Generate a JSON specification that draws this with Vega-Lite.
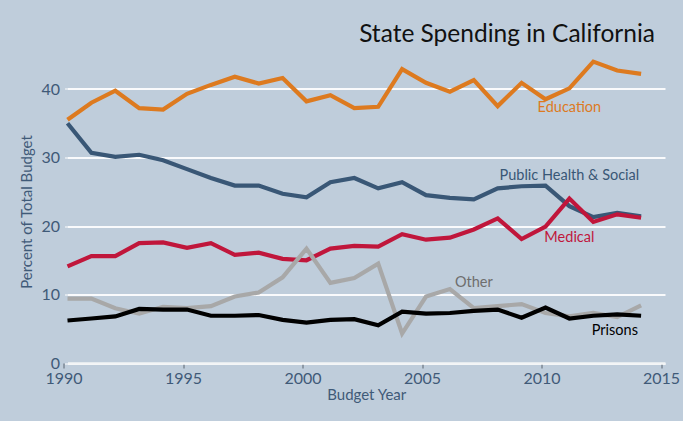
{
  "$schema": "https://vega.github.io/schema/vega-lite/v6.json",
  "autosize": {"type": "none"},
  "width": 597.5,
  "height": 342.5,
  "padding": {"left": 67.5, "top": 20.5, "right": 18, "bottom": 58},
  "background": "#BFCDDB",
  "config": {
    "view": {"stroke": null},
    "font": "Lato"
  },
  "title": {
    "text": "State Spending in California",
    "anchor": "end",
    "frame": "group",
    "baseline": "alphabetic",
    "offset": -18.5,
    "dx": -10,
    "dy": 27,
    "fontSize": 24.5,
    "fontWeight": "normal",
    "font": "Lato",
    "color": "#111111"
  },
  "datasets": {
    "spending": [
      {"year": 1990, "series": "Education", "value": 35.5},
      {"year": 1991, "series": "Education", "value": 38.0},
      {"year": 1992, "series": "Education", "value": 39.75},
      {"year": 1993, "series": "Education", "value": 37.2},
      {"year": 1994, "series": "Education", "value": 37.0},
      {"year": 1995, "series": "Education", "value": 39.3},
      {"year": 1996, "series": "Education", "value": 40.6},
      {"year": 1997, "series": "Education", "value": 41.8},
      {"year": 1998, "series": "Education", "value": 40.8},
      {"year": 1999, "series": "Education", "value": 41.6},
      {"year": 2000, "series": "Education", "value": 38.2},
      {"year": 2001, "series": "Education", "value": 39.1},
      {"year": 2002, "series": "Education", "value": 37.2},
      {"year": 2003, "series": "Education", "value": 37.4},
      {"year": 2004, "series": "Education", "value": 42.9},
      {"year": 2005, "series": "Education", "value": 40.9},
      {"year": 2006, "series": "Education", "value": 39.6},
      {"year": 2007, "series": "Education", "value": 41.3},
      {"year": 2008, "series": "Education", "value": 37.5},
      {"year": 2009, "series": "Education", "value": 40.9},
      {"year": 2010, "series": "Education", "value": 38.5},
      {"year": 2011, "series": "Education", "value": 40.1},
      {"year": 2012, "series": "Education", "value": 44.0},
      {"year": 2013, "series": "Education", "value": 42.7},
      {"year": 2014, "series": "Education", "value": 42.2},

      {"year": 1990, "series": "Public Health & Social", "value": 35.0},
      {"year": 1991, "series": "Public Health & Social", "value": 30.7},
      {"year": 1992, "series": "Public Health & Social", "value": 30.1},
      {"year": 1993, "series": "Public Health & Social", "value": 30.4},
      {"year": 1994, "series": "Public Health & Social", "value": 29.6},
      {"year": 1995, "series": "Public Health & Social", "value": 28.3},
      {"year": 1996, "series": "Public Health & Social", "value": 27.0},
      {"year": 1997, "series": "Public Health & Social", "value": 25.9},
      {"year": 1998, "series": "Public Health & Social", "value": 25.9},
      {"year": 1999, "series": "Public Health & Social", "value": 24.7},
      {"year": 2000, "series": "Public Health & Social", "value": 24.2},
      {"year": 2001, "series": "Public Health & Social", "value": 26.4},
      {"year": 2002, "series": "Public Health & Social", "value": 27.0},
      {"year": 2003, "series": "Public Health & Social", "value": 25.5},
      {"year": 2004, "series": "Public Health & Social", "value": 26.4},
      {"year": 2005, "series": "Public Health & Social", "value": 24.5},
      {"year": 2006, "series": "Public Health & Social", "value": 24.1},
      {"year": 2007, "series": "Public Health & Social", "value": 23.9},
      {"year": 2008, "series": "Public Health & Social", "value": 25.5},
      {"year": 2009, "series": "Public Health & Social", "value": 25.8},
      {"year": 2010, "series": "Public Health & Social", "value": 25.9},
      {"year": 2011, "series": "Public Health & Social", "value": 22.9},
      {"year": 2012, "series": "Public Health & Social", "value": 21.3},
      {"year": 2013, "series": "Public Health & Social", "value": 21.9},
      {"year": 2014, "series": "Public Health & Social", "value": 21.4},

      {"year": 1990, "series": "Medical", "value": 14.1},
      {"year": 1991, "series": "Medical", "value": 15.6},
      {"year": 1992, "series": "Medical", "value": 15.6},
      {"year": 1993, "series": "Medical", "value": 17.5},
      {"year": 1994, "series": "Medical", "value": 17.6},
      {"year": 1995, "series": "Medical", "value": 16.8},
      {"year": 1996, "series": "Medical", "value": 17.5},
      {"year": 1997, "series": "Medical", "value": 15.8},
      {"year": 1998, "series": "Medical", "value": 16.1},
      {"year": 1999, "series": "Medical", "value": 15.2},
      {"year": 2000, "series": "Medical", "value": 15.0},
      {"year": 2001, "series": "Medical", "value": 16.7},
      {"year": 2002, "series": "Medical", "value": 17.1},
      {"year": 2003, "series": "Medical", "value": 17.0},
      {"year": 2004, "series": "Medical", "value": 18.8},
      {"year": 2005, "series": "Medical", "value": 18.0},
      {"year": 2006, "series": "Medical", "value": 18.3},
      {"year": 2007, "series": "Medical", "value": 19.5},
      {"year": 2008, "series": "Medical", "value": 21.1},
      {"year": 2009, "series": "Medical", "value": 18.1},
      {"year": 2010, "series": "Medical", "value": 19.9},
      {"year": 2011, "series": "Medical", "value": 24.0},
      {"year": 2012, "series": "Medical", "value": 20.6},
      {"year": 2013, "series": "Medical", "value": 21.7},
      {"year": 2014, "series": "Medical", "value": 21.2},

      {"year": 1990, "series": "Other", "value": 9.4},
      {"year": 1991, "series": "Other", "value": 9.4},
      {"year": 1992, "series": "Other", "value": 8.0},
      {"year": 1993, "series": "Other", "value": 7.2},
      {"year": 1994, "series": "Other", "value": 8.2},
      {"year": 1995, "series": "Other", "value": 8.0},
      {"year": 1996, "series": "Other", "value": 8.3},
      {"year": 1997, "series": "Other", "value": 9.7},
      {"year": 1998, "series": "Other", "value": 10.3},
      {"year": 1999, "series": "Other", "value": 12.5},
      {"year": 2000, "series": "Other", "value": 16.7},
      {"year": 2001, "series": "Other", "value": 11.7},
      {"year": 2002, "series": "Other", "value": 12.4},
      {"year": 2003, "series": "Other", "value": 14.5},
      {"year": 2004, "series": "Other", "value": 4.3},
      {"year": 2005, "series": "Other", "value": 9.7},
      {"year": 2006, "series": "Other", "value": 10.8},
      {"year": 2007, "series": "Other", "value": 8.0},
      {"year": 2008, "series": "Other", "value": 8.3},
      {"year": 2009, "series": "Other", "value": 8.6},
      {"year": 2010, "series": "Other", "value": 7.3},
      {"year": 2011, "series": "Other", "value": 6.8},
      {"year": 2012, "series": "Other", "value": 7.3},
      {"year": 2013, "series": "Other", "value": 6.7},
      {"year": 2014, "series": "Other", "value": 8.4},

      {"year": 1990, "series": "Prisons", "value": 6.2},
      {"year": 1991, "series": "Prisons", "value": 6.5},
      {"year": 1992, "series": "Prisons", "value": 6.8},
      {"year": 1993, "series": "Prisons", "value": 7.9},
      {"year": 1994, "series": "Prisons", "value": 7.8},
      {"year": 1995, "series": "Prisons", "value": 7.8},
      {"year": 1996, "series": "Prisons", "value": 6.9},
      {"year": 1997, "series": "Prisons", "value": 6.9},
      {"year": 1998, "series": "Prisons", "value": 7.0},
      {"year": 1999, "series": "Prisons", "value": 6.3},
      {"year": 2000, "series": "Prisons", "value": 5.9},
      {"year": 2001, "series": "Prisons", "value": 6.3},
      {"year": 2002, "series": "Prisons", "value": 6.4},
      {"year": 2003, "series": "Prisons", "value": 5.5},
      {"year": 2004, "series": "Prisons", "value": 7.5},
      {"year": 2005, "series": "Prisons", "value": 7.2},
      {"year": 2006, "series": "Prisons", "value": 7.3},
      {"year": 2007, "series": "Prisons", "value": 7.6},
      {"year": 2008, "series": "Prisons", "value": 7.8},
      {"year": 2009, "series": "Prisons", "value": 6.6},
      {"year": 2010, "series": "Prisons", "value": 8.1},
      {"year": 2011, "series": "Prisons", "value": 6.5},
      {"year": 2012, "series": "Prisons", "value": 6.9},
      {"year": 2013, "series": "Prisons", "value": 7.1},
      {"year": 2014, "series": "Prisons", "value": 6.9}
    ],
    "labels": [
      {"series": "Education", "year": 2011.0, "value": 37.2},
      {"series": "Public Health & Social", "year": 2011.0, "value": 27.3},
      {"series": "Medical", "year": 2011.0, "value": 18.2},
      {"series": "Other", "year": 2007.0, "value": 11.7},
      {"series": "Prisons", "year": 2012.9, "value": 4.6}
    ]
  },
  "encoding": {
    "x": {
      "field": "year",
      "type": "quantitative",
      "scale": {"domain": [1990, 2015], "nice": false, "zero": false},
      "axis": {
        "title": "Budget Year",
        "values": [1990, 1995, 2000, 2005, 2010, 2015],
        "format": "d",
        "grid": false,
        "labelFlush": false,
        "labelOverlap": false,
        "domainColor": "#F2F4F6",
        "domainWidth": 2.5,
        "tickColor": "#5a6470",
        "tickSize": 5,
        "tickOffset": -4,
        "labelFont": "Lato",
        "labelFontSize": 16,
        "labelColor": "#3F5A78",
        "labelPadding": 2,
        "titleFont": "Lato",
        "titleFontSize": 15,
        "titleFontWeight": "normal",
        "titleColor": "#3F5A78",
        "titlePadding": 1
      }
    },
    "y": {
      "field": "value",
      "type": "quantitative",
      "scale": {"domain": [0, 50], "nice": false},
      "axis": {
        "title": "Percent of Total Budget",
        "values": [0, 10, 20, 30, 40],
        "grid": true,
        "gridColor": "#FFFFFF",
        "gridWidth": 2,
        "gridOpacity": 0.9,
        "domain": false,
        "ticks": true,
        "tickColor": "#FFFFFF",
        "tickSize": 3,
        "labelFont": "Lato",
        "labelFontSize": 16,
        "labelColor": "#3F5A78",
        "labelPadding": 5,
        "titleFont": "Lato",
        "titleFontSize": 15,
        "titleFontWeight": "normal",
        "titleColor": "#3F5A78",
        "titleX": -41,
        "titleY": 191,
        "titleBaseline": "middle"
      }
    }
  },
  "layer": [
    {
      "data": {"name": "spending"},
      "mark": {"type": "line", "strokeWidth": 4.2, "strokeJoin": "miter", "strokeCap": "butt"},
      "encoding": {
        "color": {
          "field": "series",
          "type": "nominal",
          "legend": null,
          "scale": {
            "domain": ["Education", "Public Health & Social", "Medical", "Other", "Prisons"],
            "range": ["#DD7A1F", "#395776", "#C0163B", "#A8A8A8", "#000000"]
          }
        }
      }
    },
    {
      "data": {"name": "labels"},
      "mark": {"type": "text", "font": "Lato", "fontSize": 14.5, "align": "center", "baseline": "middle"},
      "encoding": {
        "text": {"field": "series"},
        "color": {
          "field": "series",
          "type": "nominal",
          "legend": null,
          "scale": {
            "domain": ["Education", "Public Health & Social", "Medical", "Other", "Prisons"],
            "range": ["#DD7A1F", "#395776", "#C0163B", "#6E6E6E", "#000000"]
          }
        }
      }
    }
  ],
  "resolve": {"scale": {"color": "independent"}}
}
